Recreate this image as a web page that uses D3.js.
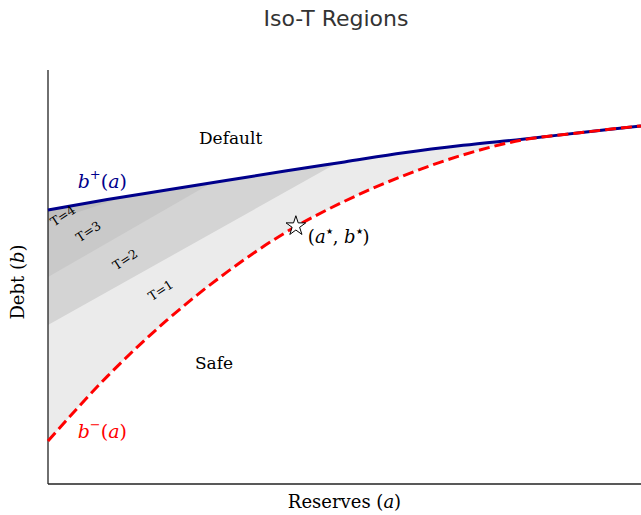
<!DOCTYPE html>
<html>
<head>
<meta charset="utf-8">
<script src="https://cdn.jsdelivr.net/npm/d3@7"></script>
<style>
  body { margin: 0; background: #fff; }
  .serif { font-family: "DejaVu Serif", serif; }
</style>
</head>
<body>
<div id="chart"></div>
<script>
// reserves grid and the two thresholds
const aGrid  = [0, 0.1, 0.2, 0.3, 0.4, 0.5, 0.6, 0.7, 0.8, 0.9, 1.0];
const bUpper = [0.662, 0.687, 0.710, 0.733, 0.756, 0.778, 0.800, 0.818, 0.833, 0.849, 0.865];
const bLower = [0.104, 0.260, 0.395, 0.510, 0.607, 0.683, 0.745, 0.795, 0.831, 0.849, 0.865];

// iso-T boundaries: lower edge of region T, as [a, b] start and end on b+
const isoT      = [2, 3, 4];
const isoStart  = [[0, 0.384], [0, 0.500], [0, 0.633]];
const isoEnd    = [[0.487, 0.775], [0.278, 0.729], [0.13, 0.694]];
const isoFill   = ["#d4d4d4", "#c9c9c9", "#bfbfbf"];
const isoLabels = ["T=1", "T=2", "T=3", "T=4"];

const aStar = 0.418, bStar = 0.623;

const W = 641, H = 515;
const margin = {top: 70, right: 0, bottom: 31, left: 48};
const width = W - margin.left - margin.right,
      height = H - margin.top - margin.bottom;

const x = d3.scaleLinear().domain([0, 1]).range([0, width]);
const y = d3.scaleLinear().domain([0, 1]).range([height, 0]);

const svg = d3.select("#chart").append("svg")
    .attr("width", W)
    .attr("height", H);

const g = svg.append("g")
    .attr("transform", "translate(" + margin.left + "," + margin.top + ")");

const pts = (bs) => aGrid.map((a, i) => [a, bs[i]]);

// clip: everything below b+
g.append("clipPath").attr("id", "below")
  .append("path")
    .attr("d", d3.area().x(d => x(d[0])).y0(height).y1(d => y(d[1]))
        .curve(d3.curveMonotoneX)(pts(bUpper)));

// T=1 region between b- and b+
g.append("path")
    .attr("fill", "#ebebeb")
    .attr("d", d3.area()
        .x((d, i) => x(aGrid[i]))
        .y0((d, i) => y(bLower[i]))
        .y1(d => y(d))
        .curve(d3.curveMonotoneX)(bUpper));

// darker iso-T regions, clipped under b+
const regions = g.append("g").attr("clip-path", "url(#below)");
isoT.forEach((t, k) => {
    const s = isoStart[k], e = isoEnd[k];
    const ext = [s[0] + (e[0] - s[0]) * 1.3, s[1] + (e[1] - s[1]) * 1.3];
    const poly = [s, ext, [ext[0], 1], [0, 1]];
    regions.append("path")
        .attr("fill", isoFill[k])
        .attr("d", d3.line().x(d => x(d[0])).y(d => y(d[1]))(poly) + "Z");
});

// spines
g.append("line").attr("x1", 0).attr("x2", 0).attr("y1", 0).attr("y2", height)
    .attr("stroke", "#222").attr("stroke-width", 1.3);
g.append("line").attr("x1", 0).attr("x2", width).attr("y1", height).attr("y2", height)
    .attr("stroke", "#222").attr("stroke-width", 1.3);

// b+ and b- curves
g.append("path")
    .datum(pts(bUpper))
    .attr("fill", "none")
    .attr("stroke", "#00008b")
    .attr("stroke-width", 3)
    .attr("d", d3.line().x(d => x(d[0])).y(d => y(d[1])).curve(d3.curveMonotoneX));

g.append("path")
    .datum(pts(bLower))
    .attr("fill", "none")
    .attr("stroke", "#ff0000")
    .attr("stroke-width", 3)
    .attr("stroke-dasharray", "11,5")
    .attr("d", d3.line().x(d => x(d[0])).y(d => y(d[1])).curve(d3.curveMonotoneX));

// star
g.append("path")
    .attr("transform", "translate(" + x(aStar) + "," + y(bStar) + ")")
    .attr("d", d3.symbol().type(d3.symbolStar).size(120)())
    .attr("fill", "#fff")
    .attr("stroke", "#000")
    .attr("stroke-width", 1);

// iso-T labels
const labelPos = [[0.19, 0.468], [0.13, 0.542], [0.068, 0.61], [0.025, 0.648]];
isoLabels.forEach((txt, i) => {
    g.append("text")
        .attr("class", "serif")
        .attr("transform", "translate(" + x(labelPos[i][0]) + "," + y(labelPos[i][1]) + ") rotate(-33)")
        .attr("text-anchor", "middle")
        .attr("dy", "0.35em")
        .attr("font-size", 12.5)
        .text(txt);
});

// region names
g.append("text").attr("class", "serif")
    .attr("x", x(0.308)).attr("y", y(0.822)).attr("text-anchor", "middle")
    .attr("font-size", 17).text("Default");
g.append("text").attr("class", "serif")
    .attr("x", x(0.28)).attr("y", y(0.278)).attr("text-anchor", "middle")
    .attr("font-size", 17).text("Safe");

// curve labels
function mathLabel(px, py, sup, color) {
    const t = g.append("text").attr("class", "serif")
        .attr("x", px).attr("y", py).attr("font-size", 19).attr("fill", color);
    t.append("tspan").attr("font-style", "italic").text("b");
    t.append("tspan").attr("font-size", 13).attr("dy", -9).text(sup);
    t.append("tspan").attr("dy", 9).text("(");
    t.append("tspan").attr("font-style", "italic").text("a");
    t.append("tspan").text(")");
}
mathLabel(x(0.05), y(0.715), "+", "#00008b");
mathLabel(x(0.05), y(0.11), "\u2212", "#ff0000");

// star label
const st = g.append("text").attr("class", "serif")
    .attr("x", x(aStar) + 12).attr("y", y(bStar) + 17).attr("font-size", 18);
st.append("tspan").text("(");
st.append("tspan").attr("font-style", "italic").text("a");
st.append("tspan").attr("font-size", 8).attr("dy", -9).text("\u2605");
st.append("tspan").attr("dy", 9).text(", ");
st.append("tspan").attr("font-style", "italic").text("b");
st.append("tspan").attr("font-size", 8).attr("dy", -9).text("\u2605");
st.append("tspan").attr("dy", 9).text(")");

// axis labels
const xl = svg.append("text").attr("class", "serif")
    .attr("x", margin.left + width / 2).attr("y", 508)
    .attr("text-anchor", "middle").attr("font-size", 18);
xl.append("tspan").text("Reserves (");
xl.append("tspan").attr("font-style", "italic").text("a");
xl.append("tspan").text(")");

const yl = svg.append("text").attr("class", "serif")
    .attr("transform", "translate(24," + (margin.top + height / 2 + 5) + ") rotate(-90)")
    .attr("text-anchor", "middle").attr("font-size", 18);
yl.append("tspan").text("Debt (");
yl.append("tspan").attr("font-style", "italic").text("b");
yl.append("tspan").text(")");

// title
svg.append("text")
    .attr("x", 336).attr("y", 26)
    .attr("text-anchor", "middle")
    .attr("font-family", "'DejaVu Sans', sans-serif")
    .attr("font-size", 22)
    .attr("fill", "#333")
    .text("Iso-T Regions");
</script>
</body>
</html>
